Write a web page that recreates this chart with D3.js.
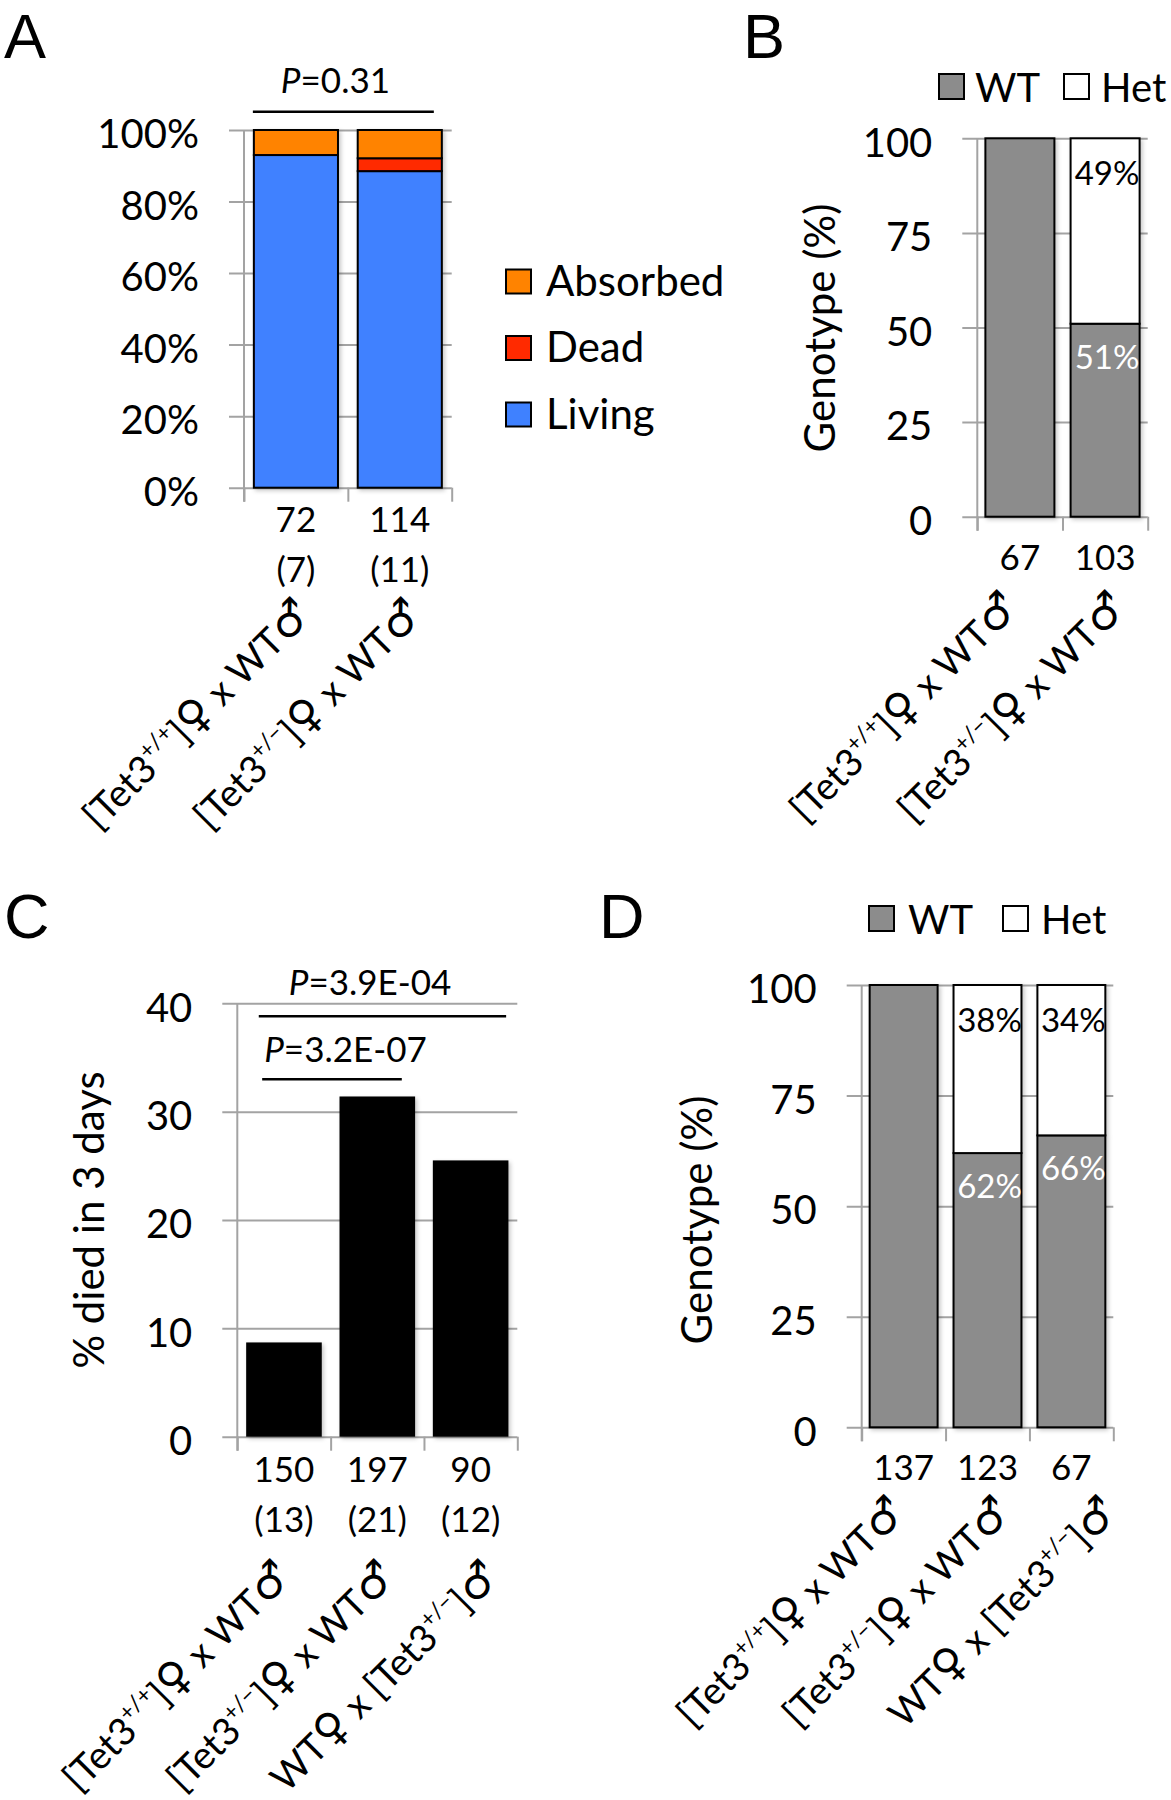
<!DOCTYPE html>
<html><head><meta charset="utf-8">
<script src="https://cdn.jsdelivr.net/npm/d3@7"></script>
<style>body{margin:0;background:#fff}</style>
</head><body>
<svg id="fig" width="1171" height="1800" xmlns="http://www.w3.org/2000/svg"></svg>
<script>
// ---------------- DATA ----------------
const crossAB = ["[Tet3^{+/+}]♀ x WT♂", "[Tet3^{+/−}]♀ x WT♂"];
const crossCD = ["[Tet3^{+/+}]♀ x WT♂", "[Tet3^{+/−}]♀ x WT♂", "WT♀ x [Tet3^{+/−}]♂"];

// Panel A: embryo outcome (%)
const outcomeKeys = ["Living", "Dead", "Absorbed"];
const livingA   = [93.0, 88.5];
const deadA     = [0.0, 3.6];
const absorbedA = [7.0, 7.9];
const embryosA  = ["72", "114"];
const littersA  = ["(7)", "(11)"];
const ticksA    = [0, 20, 40, 60, 80, 100];
const pA        = ["0.31"];

// Panel B: genotype (%)
const genoKeys = ["WT", "Het"];
const wtB   = [100, 51];
const hetB  = [0, 49];
const pupsB = ["67", "103"];
const ticksB = [0, 25, 50, 75, 100];

// Panel C: % died in 3 days
const diedC     = [8.7, 31.4, 25.5];
const pupsC     = ["150", "197", "90"];
const littersC  = ["(13)", "(21)", "(12)"];
const ticksC    = [0, 10, 20, 30, 40];
const pC        = ["3.9E-04", "3.2E-07"];

// Panel D: genotype (%)
const wtD   = [100, 62, 66];
const hetD  = [0, 38, 34];
const pupsD = ["137", "123", "67"];
const ticksD = [0, 25, 50, 75, 100];

// ---------------- STYLE ----------------
const FONT = "Lato, 'Open Sans', 'DejaVu Sans', sans-serif";
const LETTER_FONT = "'Liberation Sans', Arial, sans-serif";
const SYM = "'DejaVu Sans', sans-serif";
const GRID = "#a3a3a3";
const TICK_FS = 40;
const ROT_FS = 38;
const colOutcome = {Living: "#3f81ff", Dead: "#ff2a00", Absorbed: "#ff8300"};
const colGeno = {WT: "#8c8c8c", Het: "#ffffff"};

const svg = d3.select("#fig");
svg.append("defs").append("filter").attr("id", "sh")
  .attr("x", "-20%").attr("y", "-10%").attr("width", "140%").attr("height", "120%")
  .append("feDropShadow").attr("dx", 2).attr("dy", 2).attr("stdDeviation", 2)
  .attr("flood-color", "#000").attr("flood-opacity", 0.22);

function txt(g, s, x, y, fs, anchor, fill) {
  return g.append("text").attr("x", x).attr("y", y).attr("font-size", fs)
    .attr("font-family", FONT).attr("text-anchor", anchor || "start").attr("fill", fill || "#000").text(s);
}

// renders "^{..}" as superscript and ♀/♂ in a symbol font
function richText(t, str, fs) {
  const parts = str.split(/\^\{(.*?)\}/);
  parts.forEach((p, i) => {
    if (!p) return;
    if (i % 2 === 1) {
      t.append("tspan").text(p).attr("font-size", fs * 0.6).attr("dy", -fs * 0.42);
      return;
    }
    const chunks = p.split(/([♀♂])/);
    let first = true;
    chunks.forEach(ch => {
      if (!ch) return;
      const ts = t.append("tspan").text(ch);
      if (ch === "♀" || ch === "♂") ts.attr("font-family", SYM).attr("font-size", fs * 1.15);
      if (first && i > 0) ts.attr("dy", fs * 0.42);
      first = false;
    });
  });
}

function frame(c) {
  const g = svg.append("g");
  const n = c.n;
  const x = d3.scaleBand().domain(d3.range(n)).range([c.x0, c.x1]).paddingInner(0.19).paddingOuter(0.095);
  const y = d3.scaleLinear().domain([0, c.max]).range([c.yBot, c.yTop]);
  const grid = g.append("g").attr("transform", `translate(${c.x0 - 15},0)`)
    .call(d3.axisLeft(y).tickValues(c.ticks).tickSize(-(c.x1 - c.x0 + 15)).tickPadding(30).tickFormat(c.fmt));
  grid.select(".domain").remove();
  grid.selectAll("line").attr("stroke", GRID).attr("stroke-width", 2);
  grid.selectAll("text").attr("font-size", TICK_FS).attr("font-family", FONT).attr("fill", "#000").attr("y", 5);
  g.append("line").attr("x1", c.x0).attr("x2", c.x0).attr("y1", c.yTop).attr("y2", c.yBot + 14)
    .attr("stroke", GRID).attr("stroke-width", 2);
  const xb = d3.scaleLinear().domain([0, n]).range([c.x0, c.x1]);
  const cat = g.append("g").attr("transform", `translate(0,${c.yBot})`)
    .call(d3.axisBottom(xb).tickValues(d3.range(n + 1)).tickSize(14).tickFormat(""));
  cat.select(".domain").remove();
  cat.selectAll("line").attr("stroke", GRID).attr("stroke-width", 2);
  return {g, x, y};
}

function catLabels(g, x, lines, baselines, fs) {
  lines.forEach((arr, li) => {
    arr.forEach((s, i) => txt(g, s, x(i) + x.bandwidth() / 2, baselines[li], fs, "middle"));
  });
}

function rotLabels(g, labels, firstX, step, cy, fs) {
  labels.forEach((s, i) => {
    const ax = firstX + i * step + 0.5 * fs, ay = cy - 0.06 * fs;
    const t = g.append("text").attr("transform", `translate(${ax},${ay}) rotate(-45)`)
      .attr("font-size", fs).attr("font-family", FONT).attr("text-anchor", "end").attr("fill", "#000");
    richText(t, s, fs);
  });
}

function panelLetter(s, x, y) {
  svg.append("text").attr("x", x).attr("y", y).attr("font-size", 63)
    .attr("font-family", LETTER_FONT).attr("fill", "#000").text(s);
}

function pText(g, x, y, val, fs) {
  const t = g.append("text").attr("x", x).attr("y", y).attr("font-size", fs).attr("font-family", FONT).attr("fill", "#000");
  t.append("tspan").attr("font-style", "italic").text("P");
  t.append("tspan").text("=" + val);
}

function bracket(g, x1, x2, y) {
  g.append("line").attr("x1", x1).attr("x2", x2).attr("y1", y).attr("y2", y)
    .attr("stroke", "#000").attr("stroke-width", 2.5);
}

function yTitle(g, s, x, y, fs) {
  g.append("text").attr("transform", `translate(${x},${y}) rotate(-90)`).attr("text-anchor", "middle")
    .attr("font-size", fs).attr("font-family", FONT).attr("fill", "#000").text(s);
}

// ---------------- PANEL A ----------------
{
  panelLetter("A", 4, 58);
  const c = {n: 2, x0: 244, x1: 451.7, yTop: 130, yBot: 487.7, max: 100, ticks: ticksA, fmt: d => d + "%"};
  const {g, x, y} = frame(c);
  const rows = livingA.map((v, i) => ({Living: v, Dead: deadA[i], Absorbed: absorbedA[i], i}));
  const stack = d3.stack().keys(outcomeKeys)(rows);
  const bars = g.append("g").attr("filter", "url(#sh)");
  stack.forEach(layer => {
    bars.selectAll(null).data(layer.filter(d => d[1] - d[0] > 0)).join("rect")
      .attr("x", d => x(d.data.i)).attr("width", x.bandwidth())
      .attr("y", d => y(d[1])).attr("height", d => y(d[0]) - y(d[1]))
      .attr("fill", colOutcome[layer.key]).attr("stroke", "#000").attr("stroke-width", 2);
  });
  // p-value bracket
  const bx1 = x(0) - 1, bx2 = x(1) + x.bandwidth() - 8, by = y(105.1);
  bracket(g, bx1, bx2, by);
  pText(g, bx1 + 28, by - 19, pA[0], 35);
  catLabels(g, x, [embryosA, littersA], [c.yBot + 44, c.yBot + 94], 35);
  rotLabels(g, crossAB, 295, 111, c.yBot + 131, ROT_FS);
  // legend
  const legRows = ["Absorbed", "Dead", "Living"];
  legRows.forEach((k, i) => {
    const cy = 281.5 + i * 66.5;
    g.append("rect").attr("x", 506).attr("y", cy - 12).attr("width", 25).attr("height", 24)
      .attr("fill", colOutcome[k]).attr("stroke", "#000").attr("stroke-width", 2);
    txt(g, k, 546, cy + 14, 42);
  });
}

// ---------------- PANELS B / D ----------------
function genoPanel(c, wt, het, pups, rot, leg, title) {
  const {g, x, y} = frame(c);
  const rows = wt.map((v, i) => ({WT: v, Het: het[i], i}));
  const stack = d3.stack().keys(genoKeys)(rows);
  const bars = g.append("g").attr("filter", "url(#sh)");
  stack.forEach(layer => {
    bars.selectAll(null).data(layer.filter(d => d[1] - d[0] > 0)).join("rect")
      .attr("x", d => x(d.data.i)).attr("width", x.bandwidth())
      .attr("y", d => y(d[1])).attr("height", d => y(d[0]) - y(d[1]))
      .attr("fill", colGeno[layer.key]).attr("stroke", "#000").attr("stroke-width", 2);
  });
  rows.forEach(r => {
    if (r.Het > 0) {
      const cx = x(r.i) + x.bandwidth() / 2 + 2;
      txt(g, r.Het + "%", cx, y(r.WT + r.Het) + 47, 33, "middle", "#000");
      txt(g, r.WT + "%", cx, y(r.WT) + 45, 33, "middle", "#fff");
    }
  });
  catLabels(g, x, [pups], [c.yBot + 53], 35);
  rotLabels(g, rot.labels, rot.x, rot.step, c.yBot + rot.dy, ROT_FS);
  yTitle(g, "Genotype (%)", title.x, title.y, 42);
  genoKeys.forEach((k, i) => {
    g.append("rect").attr("x", leg.sq[i]).attr("y", leg.y).attr("width", 25).attr("height", 25)
      .attr("fill", colGeno[k]).attr("stroke", "#000").attr("stroke-width", 2);
    txt(g, k, leg.tx[i], leg.y + 28, 40);
  });
}

panelLetter("B", 743, 58);
genoPanel({n: 2, x0: 977.3, x1: 1147.7, yTop: 138.3, yBot: 516.7, max: 100, ticks: ticksB, fmt: d => d},
  wtB, hetB, pupsB, {labels: crossAB, x: 1002, step: 108, dy: 95},
  {sq: [939, 1064], tx: [975, 1101], y: 74}, {x: 835, y: 328});

// ---------------- PANEL C ----------------
{
  panelLetter("C", 4, 938);
  const c = {n: 3, x0: 237.3, x1: 517.3, yTop: 1003.3, yBot: 1436.7, max: 40, ticks: ticksC, fmt: d => d};
  const {g, x, y} = frame(c);
  g.append("g").attr("filter", "url(#sh)").selectAll("rect").data(diedC).join("rect")
    .attr("x", (d, i) => x(i)).attr("width", x.bandwidth())
    .attr("y", d => y(d)).attr("height", d => y(0) - y(d)).attr("fill", "#000");
  // brackets
  const b1x1 = x(0) + 12.6, b1x2 = x(2) + x.bandwidth() - 2.3, b1y = y(38.8);
  bracket(g, b1x1, b1x2, b1y);
  pText(g, b1x1 + 30, b1y - 21, pC[0], 35);
  const b2x1 = x(0) + 16, b2x2 = x(1) + x.bandwidth() - 13.3, b2y = y(33.0);
  bracket(g, b2x1, b2x2, b2y);
  pText(g, b2x1 + 2, b2y - 17, pC[1], 35);
  catLabels(g, x, [pupsC, littersC], [c.yBot + 45, c.yBot + 95], 35);
  rotLabels(g, crossCD, 275, 104, c.yBot + 144, ROT_FS);
  yTitle(g, "% died in 3 days", 104, 1220, 42);
}

// ---------------- PANEL D ----------------
panelLetter("D", 599, 938);
genoPanel({n: 3, x0: 861.7, x1: 1113.3, yTop: 985, yBot: 1427.3, max: 100, ticks: ticksD, fmt: d => d},
  wtD, hetD, pupsD, {labels: crossCD, x: 889, step: 106, dy: 89},
  {sq: [869, 1003], tx: [908, 1041], y: 906}, {x: 712, y: 1220});
</script>
</body></html>
